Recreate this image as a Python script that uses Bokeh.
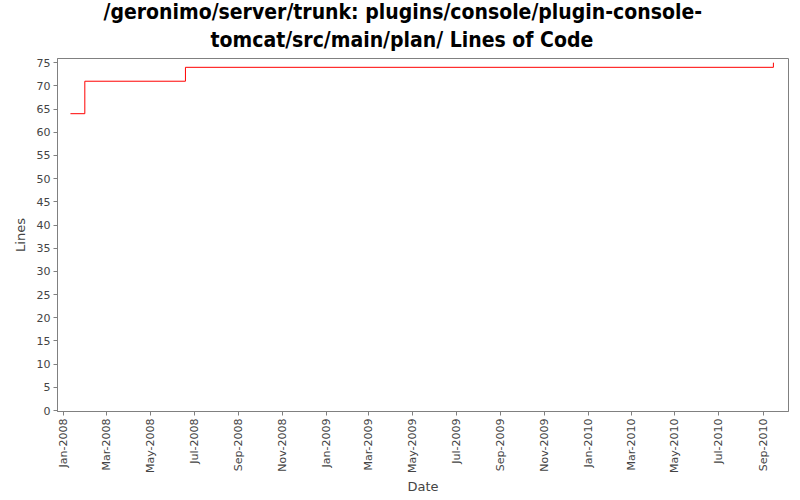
from datetime import datetime
from bokeh.plotting import figure
from bokeh.models import (Range1d, Title, SingleIntervalTicker, MonthsTicker,
                          DatetimeTickFormatter)
from bokeh.embed import file_html
from bokeh.resources import INLINE
import math

# Data
dates = [datetime(2008, 1, 11), datetime(2008, 1, 31), datetime(2008, 6, 19), datetime(2010, 9, 15)]
lines = [64, 71, 74, 75]
title_lines = ["/geronimo/server/trunk: plugins/console/plugin-console-",
               "tomcat/src/main/plan/ Lines of Code"]

p = figure(width=796, height=498, x_axis_type="datetime",
           output_backend="svg", toolbar_location=None,
           x_range=Range1d(datetime(2007, 12, 24), datetime(2010, 10, 6)),
           y_range=Range1d(-0.2, 75.9),
           min_border_left=57, min_border_right=8, min_border_top=58, min_border_bottom=87)

title_offsets = [46, 153]
title_standoffs = [-8, 13]
for i in (1, 0):
    p.add_layout(Title(text=title_lines[i], align="left", text_font="DejaVu Sans Condensed",
                       text_font_style="bold", text_font_size="21px", text_color="black",
                       standoff=title_standoffs[i], offset=title_offsets[i]), "above")

p.step(dates, lines, mode="after", line_color="red", line_width=1)

p.outline_line_color = "#808080"
p.xgrid.visible = False
p.ygrid.visible = False

p.yaxis.ticker = SingleIntervalTicker(interval=5, num_minor_ticks=0)
p.xaxis.ticker = MonthsTicker(months=[0, 2, 4, 6, 8, 10])
p.xaxis.formatter = DatetimeTickFormatter(months="%b-%Y", days="%b-%Y", years="%b-%Y")
p.xaxis.major_label_orientation = math.pi / 2

for ax in (p.xaxis, p.yaxis):
    ax.axis_line_color = "#808080"
    ax.major_tick_line_color = "#808080"
    ax.minor_tick_line_color = None
    ax.major_tick_in = 0
    ax.major_tick_out = 4
    ax.major_label_standoff = 3
    ax.major_label_text_font = "DejaVu Sans"
    ax.major_label_text_font_size = "11px"
    ax.major_label_text_color = "#444444"
    ax.axis_label_text_font = "DejaVu Sans"
    ax.axis_label_text_font_size = "13px"
    ax.axis_label_text_font_style = "normal"
    ax.axis_label_text_color = "#444444"

p.xaxis.axis_label = "Date"
p.yaxis.axis_label = "Lines"
p.xaxis.axis_label_standoff = 3
p.yaxis.axis_label_standoff = 6

open("out.html", "w").write(file_html(p, INLINE))
